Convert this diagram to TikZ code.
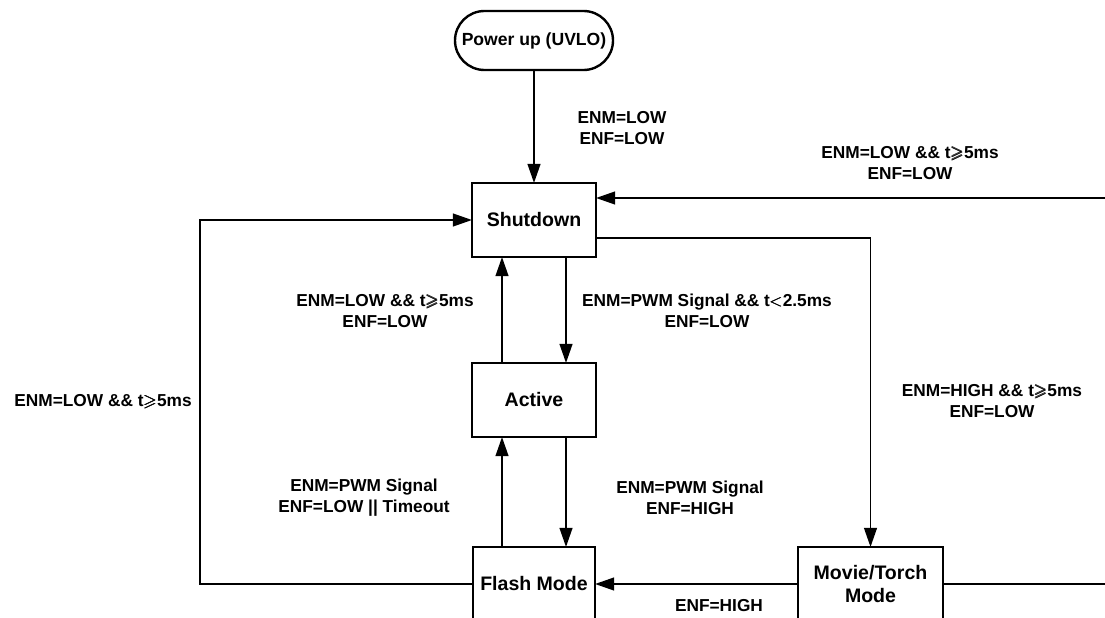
\documentclass[tikz,border=0pt]{standalone}
\usepackage{amsmath}
\usepackage{amssymb}
\usepackage{fontspec}
\setmainfont{Liberation Sans}
\usetikzlibrary{positioning, arrows.meta}

\newcommand{\tge}{$\pmb{\geqslant}$}
\newcommand{\tlt}{$\pmb{<}$}

\begin{document}
\begin{tikzpicture}[
  state/.style={
    rectangle, draw, line width=2.1pt,
    minimum width=3.1cm, minimum height=1.85cm,
    inner sep=0pt, outer sep=0pt, align=center,
    font=\fontsize{13.9}{17}\selectfont\bfseries
  },
  start/.style={
    rectangle, rounded corners=0.7375cm,
    draw, line width=1.7pt,
    minimum width=3.95cm, minimum height=1.475cm,
    inner sep=0pt, outer sep=0pt,
    font=\fontsize{12.5}{15}\selectfont\bfseries
  },
  cond/.style={
    align=center, inner sep=0pt,
    font=\fontsize{12.3}{15}\selectfont\bfseries
  },
  arr/.style={
    -{Triangle[length=0.48cm, width=0.32cm]}, line width=1.4pt
  },
  wire/.style={
    line width=1.4pt
  }
]
\useasboundingbox (0,0) rectangle (27.625,-15.45);
\clip (0,0) rectangle (27.625,-15.45);

% ================= States =================
\node[state] (Shutdown) at (13.35,-5.5) {Shutdown};
\node[start, above=2.825cm of Shutdown] (PowerUp) {Power up (UVLO)};
\node[state, below=2.65cm of Shutdown] (Active) {Active};
\node[state, minimum width=3.05cm, below=2.75cm of Active] (Flash) {Flash Mode};
\node[state, minimum width=3.625cm, right=5.075cm of Flash] (Movie) {Movie/Torch\\Mode};

% ================= Off-page ends =================
\coordinate (exitTop) at (27.8,-4.95);
\coordinate (exitBot) at (27.8,-14.6);
\coordinate (loopL) at (5.0,-10);

% ================= Conditions =================
\node[cond] (c_pow) at (15.55,-3.2) {ENM=LOW\\ENF=LOW};
\node[cond] (c_top) at (22.75,-4.075) {ENM=LOW \&\& t\tge5ms\\ENF=LOW};
\node[cond] (c_act_up) at (9.625,-7.775) {ENM=LOW \&\& t\tge5ms\\ENF=LOW};
\node[cond] (c_act_dn) at (17.675,-7.775) {ENM=PWM Signal \&\& t\tlt2.5ms\\ENF=LOW};
\node[cond] (c_movie) at (24.8,-10.025) {ENM=HIGH \&\& t\tge5ms\\ENF=LOW};
\node[cond] (c_loop) at (2.575,-10.05) {ENM=LOW \&\& t\tge5ms};
\node[cond] (c_fl_up) at (9.1,-12.45) {ENM=PWM Signal\\ENF=LOW || Timeout};
\node[cond] (c_fl_dn) at (17.25,-12.45) {ENM=PWM Signal\\ENF=HIGH};
\node[cond] (c_enf) at (17.975,-15.15) {ENF=HIGH};

% ================= Connections: main column =================
\draw[arr] (PowerUp) -- (Shutdown);
\draw[arr] ([xshift=-0.8cm]Active.north) -- ([xshift=-0.8cm]Shutdown.south);
\draw[arr] ([xshift=0.8cm]Shutdown.south) -- ([xshift=0.8cm]Active.north);
\draw[arr] ([xshift=-0.8cm]Flash.north) -- ([xshift=-0.8cm]Active.south);
\draw[arr] ([xshift=0.8cm]Active.south) -- ([xshift=0.8cm]Flash.north);

% ================= Connections: torch branch =================
\draw[arr] ([yshift=-0.45cm]Shutdown.east) -| (Movie.north);
\draw[arr] (Movie.west) -- (Flash.east);
\draw[wire] (Movie.east) -- (exitBot);
\draw[arr] (exitTop) -- (exitTop -| Shutdown.east);

% ================= Connections: back to shutdown =================
\draw[arr] (Flash.west) -| (loopL) |- (Shutdown.west);

\end{tikzpicture}
\end{document}
